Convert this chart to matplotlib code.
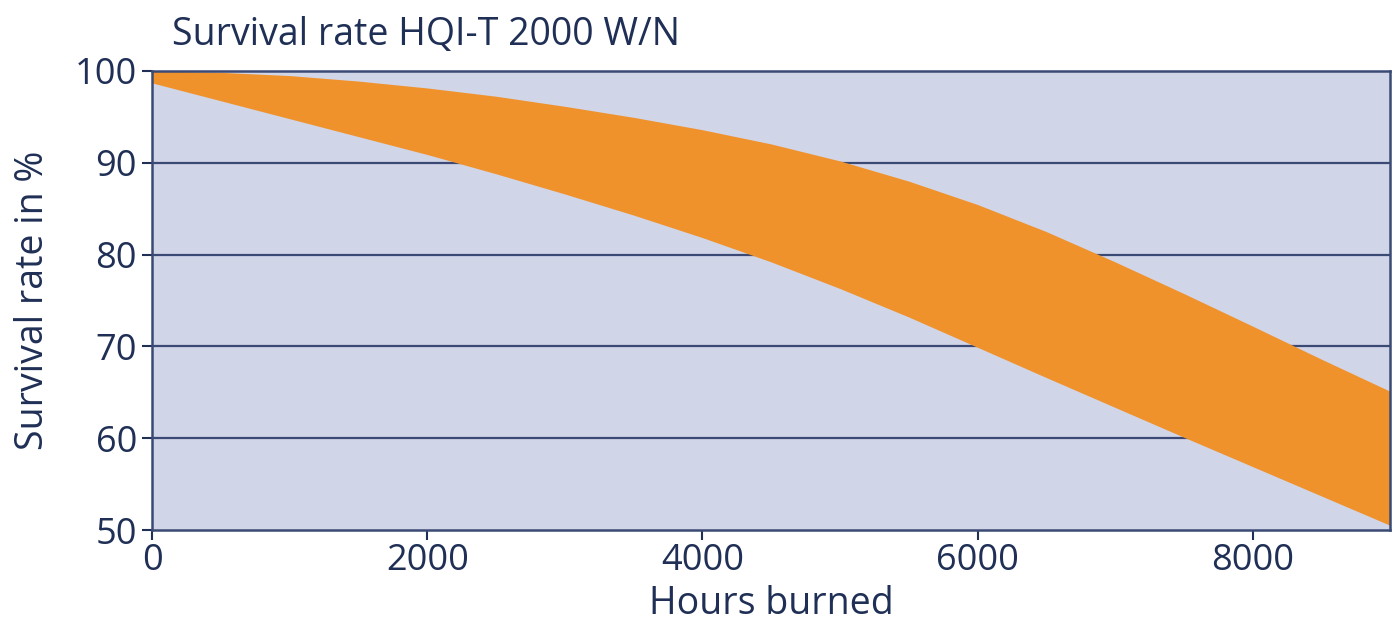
import numpy as np
import matplotlib
matplotlib.use("Agg")
import matplotlib.pyplot as plt

# survival band, every 500 hours
hours = [0, 500, 1000, 1500, 2000, 2500, 3000, 3500, 4000, 4500,
         5000, 5500, 6000, 6500, 7000, 7500, 8000, 8500, 9000]
upper = [100.0, 99.85, 99.5, 98.9, 98.15, 97.25, 96.15, 94.95, 93.6, 92.05,
         90.2, 88.0, 85.45, 82.5, 79.2, 75.75, 72.2, 68.6, 65.1]
lower = [98.7, 96.75, 94.8, 92.85, 90.9, 88.8, 86.6, 84.3, 81.85, 79.2,
         76.3, 73.2, 69.9, 66.6, 63.35, 60.1, 56.9, 53.7, 50.5]

x_ticks = [0, 2000, 4000, 6000, 8000]
y_ticks = [50, 60, 70, 80, 90, 100]

NAVY = "#1f2f55"
GRID = "#3b4a74"
BG = "#d1d5e8"
ORANGE = "#f0922c"

plt.rcParams["font.family"] = ["Open Sans", "DejaVu Sans"]

fig = plt.figure(figsize=(13.96, 6.31), dpi=100)
ax = fig.add_axes([0.109, 0.160, 0.887, 0.7275])
ax.set_facecolor(BG)

for yv in y_ticks[1:-1]:
    ax.axhline(yv, color=GRID, lw=1.6, zorder=1)
ax.fill_between(hours, lower, upper, color=ORANGE, lw=0, zorder=2)

ax.set_xlim(0, 9000)
ax.set_ylim(50, 100)
ax.set_xticks(x_ticks)
ax.set_yticks(y_ticks)
ax.tick_params(axis="both", colors=NAVY, labelsize=26, length=7, width=1.5)
ax.tick_params(axis="x", pad=2)
ax.tick_params(axis="y", pad=4)
for s in ax.spines.values():
    s.set_color(GRID)
    s.set_linewidth(1.8)
    s.set_zorder(3)

ax.set_xlabel("Hours burned", fontsize=27, color=NAVY, labelpad=5)
ax.set_ylabel("Survival rate in %", fontsize=27, color=NAVY, labelpad=16)
fig.text(0.123, 0.975, "Survival rate HQI-T 2000 W/N", fontsize=27,
         color=NAVY, ha="left", va="top")

fig.savefig("out.png", dpi=100, facecolor="white")
